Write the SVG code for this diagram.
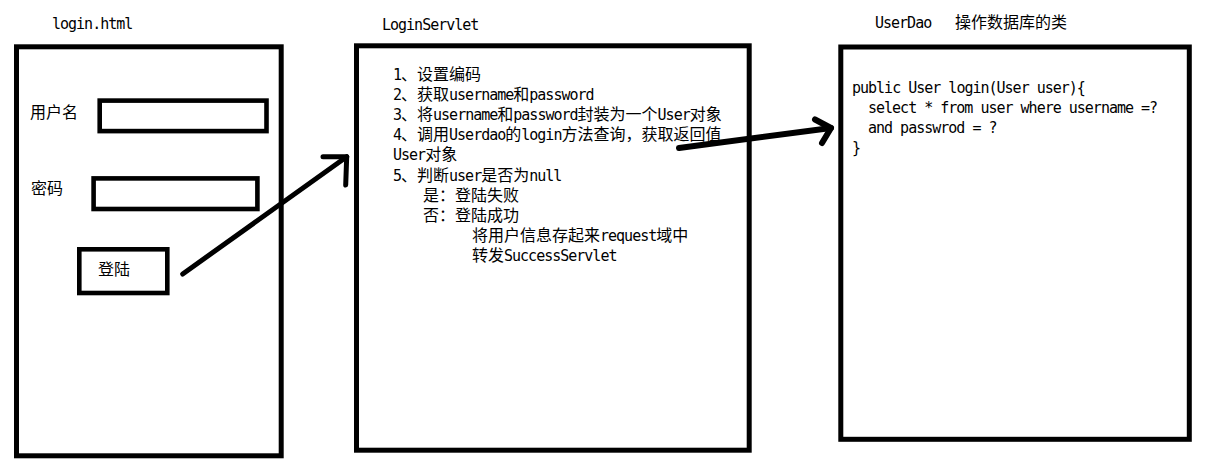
<svg xmlns="http://www.w3.org/2000/svg" width="1218" height="468" viewBox="0 0 1218 468">
<style>
.box{fill:none;stroke:#000;stroke-width:5}
.inp{fill:none;stroke:#000;stroke-width:4.6}
.t{font-family:"DejaVu Sans Mono","Liberation Mono","Noto Sans CJK SC",monospace;font-size:16px;fill:#000}
.l{font-size:15px;letter-spacing:-1px}
.arr{fill:none;stroke:#000;stroke-linecap:round;stroke-linejoin:round}
</style>
<rect width="1218" height="468" fill="#fff"/>
<g id="login-html">
<text class="t l" x="52" y="29">login.html</text>
<rect class="box" x="16.5" y="46.8" width="264.7" height="409"/>
<text class="t" x="30" y="118">用户名</text>
<rect class="inp" x="99.7" y="100.6" width="166.8" height="30.5"/>
<text class="t" x="31" y="194">密码</text>
<rect class="inp" x="93.6" y="178.4" width="163.8" height="30.6"/>
<rect class="inp" x="79.3" y="249.3" width="88" height="43.7"/>
<text class="t" x="98" y="275">登陆</text>
</g>
<g id="login-servlet">
<text class="t l" x="382" y="30">LoginServlet</text>
<rect class="box" x="356.5" y="45.8" width="392.7" height="404.4"/>
<text class="t" x="393" y="79.5"><tspan class="l">1</tspan>、设置编码</text>
<text class="t" x="393" y="99.7"><tspan class="l">2</tspan>、获取<tspan class="l">username</tspan>和<tspan class="l">password</tspan></text>
<text class="t" x="393" y="120"><tspan class="l">3</tspan>、将<tspan class="l">username</tspan>和<tspan class="l">password</tspan>封装为一个<tspan class="l">User</tspan>对象</text>
<text class="t" x="393" y="140"><tspan class="l">4</tspan>、调用<tspan class="l">Userdao</tspan>的<tspan class="l">login</tspan>方法查询，获取返回值</text>
<text class="t" x="393" y="160.3"><tspan class="l">User</tspan>对象</text>
<text class="t" x="393" y="180.5"><tspan class="l">5</tspan>、判断<tspan class="l">user</tspan>是否为<tspan class="l">null</tspan></text>
<text class="t" x="423" y="200.7">是：登陆失败</text>
<text class="t" x="423" y="221">否：登陆成功</text>
<text class="t" x="472" y="241">将用户信息存起来<tspan class="l">request</tspan>域中</text>
<text class="t" x="472" y="261.3">转发<tspan class="l">SuccessServlet</tspan></text>
</g>
<g id="user-dao">
<text class="t" x="875" y="28"><tspan class="l">UserDao</tspan><tspan x="955">操作数据库的类</tspan></text>
<rect class="box" x="840.8" y="47" width="348.5" height="392.3"/>
<text class="t l" x="852" y="93">public User login(User user){</text>
<text class="t l" x="868" y="113">select * from user where username =?</text>
<text class="t l" x="868" y="133">and passwrod = ?</text>
<text class="t l" x="852" y="153">}</text>
</g>
<g id="connectors">
<g class="arr" stroke-width="5">
<path d="M182.7 274 L346.7 156.7"/>
<path d="M323 156.7 L346.7 156.7 L345.7 185"/>
</g>
<g class="arr" stroke-width="6">
<path d="M679 148 L831 128"/>
<path d="M815 119.5 L831 128 L822 143"/>
</g>
</g>
</svg>
